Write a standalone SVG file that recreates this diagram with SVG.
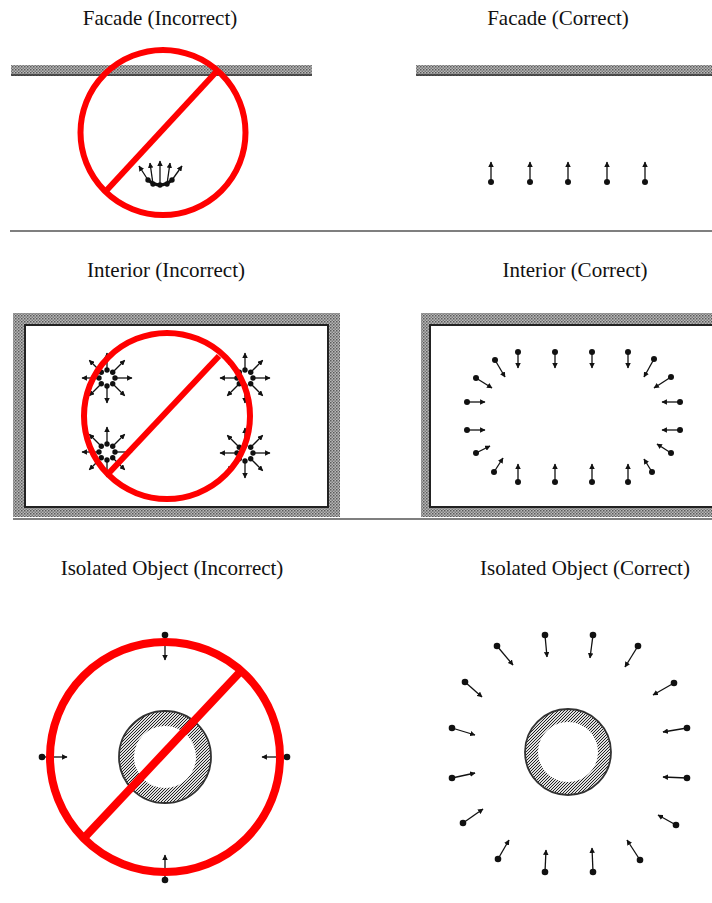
<svg xmlns="http://www.w3.org/2000/svg" width="712" height="903" viewBox="0 0 712 903">
<style>
.t{font-family:"Liberation Serif","Times New Roman",serif;font-size:21px;fill:#111;text-anchor:middle}
.sep{stroke:#555;stroke-width:1.5;fill:none}
.no{stroke:#ff0000;fill:none}
.ar{stroke:#111;stroke-width:1.3;marker-end:url(#ah)}
.dt{fill:#111}
.edge{stroke:#333;fill:none}
</style>
<defs>
<pattern id="chk" width="3" height="3" patternUnits="userSpaceOnUse">
<rect width="3" height="3" fill="#b8b8b8"/>
<rect width="1.5" height="1.5" fill="#5a5a5a"/>
<rect x="1.5" y="1.5" width="1.5" height="1.5" fill="#7a7a7a"/>
</pattern>
<pattern id="diag" width="3" height="3" patternUnits="userSpaceOnUse">
<rect width="3" height="3" fill="#e0e0e0"/>
<path d="M-1,1 L1,-1 M0,3 L3,0 M2,4 L4,2" stroke="#222" stroke-width="1"/>
</pattern>
<marker id="ah" viewBox="0 0 10 10" refX="9" refY="5" markerWidth="5.5" markerHeight="5.5" markerUnits="userSpaceOnUse" orient="auto">
<path d="M0,0 L10,5 L0,10 z" fill="#111"/>
</marker>
<g id="burst">
<circle class="dt" cx="8" cy="0" r="2.7"/><circle class="dt" cx="5.7" cy="5.7" r="2.7"/><circle class="dt" cx="0" cy="8" r="2.7"/><circle class="dt" cx="-5.7" cy="5.7" r="2.7"/>
<circle class="dt" cx="-8" cy="0" r="2.7"/><circle class="dt" cx="-5.7" cy="-5.7" r="2.7"/><circle class="dt" cx="0" cy="-8" r="2.7"/><circle class="dt" cx="5.7" cy="-5.7" r="2.7"/>
<line class="ar" x1="8" y1="0" x2="25" y2="0"/><line class="ar" x1="5.7" y1="5.7" x2="17.7" y2="17.7"/><line class="ar" x1="0" y1="8" x2="0" y2="25"/><line class="ar" x1="-5.7" y1="5.7" x2="-17.7" y2="17.7"/>
<line class="ar" x1="-8" y1="0" x2="-25" y2="0"/><line class="ar" x1="-5.7" y1="-5.7" x2="-17.7" y2="-17.7"/><line class="ar" x1="0" y1="-8" x2="0" y2="-25"/><line class="ar" x1="5.7" y1="-5.7" x2="17.7" y2="-17.7"/>
</g>
</defs>
<rect width="712" height="903" fill="#fff"/>

<g id="titles">
<text class="t" x="160" y="25">Facade (Incorrect)</text>
<text class="t" x="558" y="25">Facade (Correct)</text>
<text class="t" x="166" y="277">Interior (Incorrect)</text>
<text class="t" x="575" y="277">Interior (Correct)</text>
<text class="t" x="172" y="575">Isolated Object (Incorrect)</text>
<text class="t" x="585" y="575">Isolated Object (Correct)</text>
</g>

<g id="separators">
<line class="sep" x1="10" y1="231" x2="712" y2="231"/>
<line class="sep" x1="13" y1="519" x2="712" y2="519" stroke="#777"/>
</g>

<g id="facade-incorrect">
<rect x="11" y="65" width="301" height="11" fill="url(#chk)"/>
<line class="edge" x1="11" y1="75" x2="312" y2="75" stroke-width="1.5"/>
<g id="facade-incorrect-arrows">
<circle class="dt" cx="148" cy="180" r="2.7"/><circle class="dt" cx="153" cy="184" r="2.7"/><circle class="dt" cx="160" cy="185" r="2.7"/><circle class="dt" cx="167" cy="184" r="2.7"/><circle class="dt" cx="172" cy="180" r="2.7"/>
<path d="M148,180 Q160,190 172,180" stroke="#111" stroke-width="3" fill="none"/>
<line class="ar" x1="148" y1="180" x2="139" y2="166"/>
<line class="ar" x1="153" y1="184" x2="150" y2="163"/>
<line class="ar" x1="160" y1="185" x2="160" y2="161"/>
<line class="ar" x1="167" y1="184" x2="170" y2="163"/>
<line class="ar" x1="172" y1="180" x2="182" y2="166"/>
</g>
<circle class="no" cx="163" cy="132.5" r="82.5" stroke-width="6"/>
<line class="no" x1="106" y1="191" x2="217" y2="71" stroke-width="6"/>
</g>

<g id="facade-correct">
<rect x="416" y="65" width="296" height="11" fill="url(#chk)"/>
<line class="edge" x1="416" y1="75" x2="712" y2="75" stroke-width="1.5"/>
<g id="facade-correct-arrows">
<circle class="dt" cx="491" cy="182" r="3"/><line class="ar" x1="491" y1="182" x2="491" y2="162"/>
<circle class="dt" cx="530" cy="182" r="3"/><line class="ar" x1="530" y1="182" x2="530" y2="162"/>
<circle class="dt" cx="568" cy="182" r="3"/><line class="ar" x1="568" y1="182" x2="568" y2="162"/>
<circle class="dt" cx="607" cy="182" r="3"/><line class="ar" x1="607" y1="182" x2="607" y2="162"/>
<circle class="dt" cx="645" cy="182" r="3"/><line class="ar" x1="645" y1="182" x2="645" y2="162"/>
</g>
</g>

<g id="interior-incorrect">
<rect x="13" y="313" width="327" height="204" fill="url(#chk)"/>
<rect x="25" y="325" width="303" height="182" fill="#fff" stroke="#222" stroke-width="2"/>
<g id="interior-incorrect-arrows">
<use href="#burst" x="107" y="378"/>
<use href="#burst" x="107" y="452"/>
<use href="#burst" x="245" y="378"/>
<use href="#burst" x="245" y="453"/>
</g>
<circle class="no" cx="167" cy="416" r="83" stroke-width="6"/>
<line class="no" x1="108" y1="474" x2="219" y2="356" stroke-width="6"/>
</g>

<g id="interior-correct">
<rect x="421" y="313" width="300" height="204" fill="url(#chk)"/>
<rect x="430" y="325" width="300" height="182" fill="#fff" stroke="#222" stroke-width="2"/>
<g id="interior-correct-arrows">
<circle class="dt" cx="518" cy="352" r="3"/><line class="ar" x1="518" y1="352" x2="518" y2="368"/>
<circle class="dt" cx="555" cy="352" r="3"/><line class="ar" x1="555" y1="352" x2="555" y2="368"/>
<circle class="dt" cx="592" cy="352" r="3"/><line class="ar" x1="592" y1="352" x2="592" y2="368"/>
<circle class="dt" cx="628" cy="352" r="3"/><line class="ar" x1="628" y1="352" x2="628" y2="368"/>
<circle class="dt" cx="518" cy="482" r="3"/><line class="ar" x1="518" y1="482" x2="518" y2="464"/>
<circle class="dt" cx="555" cy="482" r="3"/><line class="ar" x1="555" y1="482" x2="555" y2="464"/>
<circle class="dt" cx="592" cy="482" r="3"/><line class="ar" x1="592" y1="482" x2="592" y2="464"/>
<circle class="dt" cx="628" cy="482" r="3"/><line class="ar" x1="628" y1="482" x2="628" y2="464"/>
<circle class="dt" cx="467" cy="402" r="3"/><line class="ar" x1="467" y1="402" x2="485" y2="402"/>
<circle class="dt" cx="467" cy="430" r="3"/><line class="ar" x1="467" y1="430" x2="485" y2="430"/>
<circle class="dt" cx="680" cy="402" r="3"/><line class="ar" x1="680" y1="402" x2="662" y2="402"/>
<circle class="dt" cx="680" cy="430" r="3"/><line class="ar" x1="680" y1="430" x2="662" y2="430"/>
<circle class="dt" cx="495" cy="360" r="3"/><line class="ar" x1="495" y1="360" x2="505" y2="377"/>
<circle class="dt" cx="476" cy="378" r="3"/><line class="ar" x1="476" y1="378" x2="492" y2="388"/>
<circle class="dt" cx="654" cy="359" r="3"/><line class="ar" x1="654" y1="359" x2="644" y2="377"/>
<circle class="dt" cx="671" cy="377" r="3"/><line class="ar" x1="671" y1="377" x2="654" y2="388"/>
<circle class="dt" cx="476" cy="453" r="3"/><line class="ar" x1="476" y1="453" x2="490" y2="446"/>
<circle class="dt" cx="494" cy="472" r="3"/><line class="ar" x1="494" y1="472" x2="503" y2="458"/>
<circle class="dt" cx="671" cy="453" r="3"/><line class="ar" x1="671" y1="453" x2="657" y2="444"/>
<circle class="dt" cx="652" cy="472" r="3"/><line class="ar" x1="652" y1="472" x2="644" y2="459"/>
</g>
</g>

<g id="isolated-incorrect">
<path d="M119,757 a46,46 0 1,0 92,0 a46,46 0 1,0 -92,0 Z M134,757 a31,31 0 1,0 62,0 a31,31 0 1,0 -62,0 Z" fill="url(#diag)" fill-rule="evenodd"/>
<circle cx="165" cy="757" r="46" class="edge" stroke-width="1.8"/>
<g id="isolated-incorrect-arrows">
<circle class="dt" cx="165" cy="635" r="3.3"/><line class="ar" x1="165" y1="635" x2="165" y2="660"/>
<circle class="dt" cx="165" cy="880" r="3.3"/><line class="ar" x1="165" y1="880" x2="165" y2="855"/>
<circle class="dt" cx="42" cy="757" r="3.3"/><line class="ar" x1="42" y1="757" x2="67" y2="757"/>
<circle class="dt" cx="287" cy="757" r="3.3"/><line class="ar" x1="287" y1="757" x2="262" y2="757"/>
</g>
<circle class="no" cx="165" cy="757" r="115" stroke-width="8"/>
<line class="no" x1="84" y1="838" x2="240" y2="672" stroke-width="8"/>
</g>

<g id="isolated-correct">
<path d="M525,752 a43,43 0 1,0 86,0 a43,43 0 1,0 -86,0 Z M538,752 a30,30 0 1,0 60,0 a30,30 0 1,0 -60,0 Z" fill="url(#diag)" fill-rule="evenodd"/>
<circle cx="568" cy="752" r="43" class="edge" stroke-width="1.8"/>
<g id="isolated-correct-arrows">
<circle class="dt" cx="545" cy="635" r="3.3"/><line class="ar" x1="545" y1="635" x2="547" y2="657"/>
<circle class="dt" cx="593" cy="635" r="3.3"/><line class="ar" x1="593" y1="635" x2="590" y2="658"/>
<circle class="dt" cx="638" cy="646" r="3.3"/><line class="ar" x1="638" y1="646" x2="625" y2="667"/>
<circle class="dt" cx="674" cy="683" r="3.3"/><line class="ar" x1="674" y1="683" x2="653" y2="695"/>
<circle class="dt" cx="687" cy="728" r="3.3"/><line class="ar" x1="687" y1="728" x2="663" y2="732"/>
<circle class="dt" cx="687" cy="778" r="3.3"/><line class="ar" x1="687" y1="778" x2="663" y2="777"/>
<circle class="dt" cx="676" cy="825" r="3.3"/><line class="ar" x1="676" y1="825" x2="658" y2="815"/>
<circle class="dt" cx="640" cy="860" r="3.3"/><line class="ar" x1="640" y1="860" x2="627" y2="840"/>
<circle class="dt" cx="593" cy="872" r="3.3"/><line class="ar" x1="593" y1="872" x2="592" y2="848"/>
<circle class="dt" cx="545" cy="872" r="3.3"/><line class="ar" x1="545" y1="872" x2="546" y2="850"/>
<circle class="dt" cx="498" cy="859" r="3.3"/><line class="ar" x1="498" y1="859" x2="509" y2="840"/>
<circle class="dt" cx="463" cy="823" r="3.3"/><line class="ar" x1="463" y1="823" x2="483" y2="809"/>
<circle class="dt" cx="452" cy="778" r="3.3"/><line class="ar" x1="452" y1="778" x2="475" y2="773"/>
<circle class="dt" cx="452" cy="728" r="3.3"/><line class="ar" x1="452" y1="728" x2="475" y2="735"/>
<circle class="dt" cx="465" cy="682" r="3.3"/><line class="ar" x1="465" y1="682" x2="482" y2="697"/>
<circle class="dt" cx="497" cy="646" r="3.3"/><line class="ar" x1="497" y1="646" x2="513" y2="665"/>
</g>
</g>
</svg>
